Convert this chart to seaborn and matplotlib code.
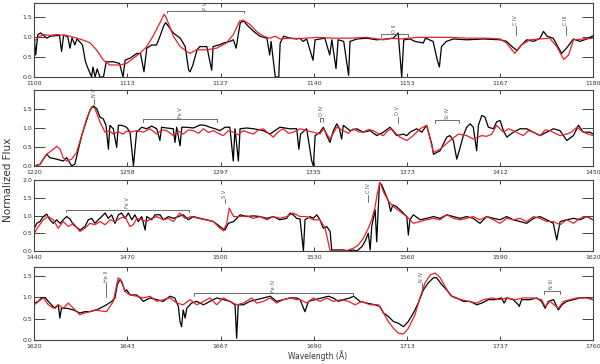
import matplotlib
matplotlib.use("Agg")
import matplotlib.pyplot as plt
import numpy as np
import seaborn as sns

sns.set_style("ticks")
plt.rcParams["font.family"] = ["DejaVu Sans"]

# observed spectrum (black) and model fit (red): (wavelength [A], normalized flux)
obs_1 = [(1100.0, 0.97), (1100.2, 0.55), (1100.5, 1.06), (1100.9, 1.10), (1101.8, 0.97), (1102.3, 1.02),
         (1103.6, 1.04), (1103.9, 0.64), (1104.2, 1.05), (1104.8, 1.00), (1105.1, 0.72), (1105.4, 0.98),
         (1105.8, 0.80), (1106.1, 0.95), (1106.5, 0.88), (1106.9, 0.80), (1107.3, 0.40), (1107.6, 0.25),
         (1108.2, 0.00), (1108.4, 0.25), (1108.7, 0.00), (1109.0, 0.20), (1109.4, 0.00), (1109.9, 0.00),
         (1110.3, 0.38), (1111.3, 0.38), (1112.2, 0.34), (1112.7, 0.00), (1113.0, 0.42), (1113.7, 0.47),
         (1114.7, 0.59), (1115.2, 0.59), (1115.7, 0.13), (1116.1, 0.72), (1116.8, 0.80), (1117.5, 0.80),
         (1118.0, 1.02), (1118.5, 1.27), (1118.8, 1.36), (1119.2, 1.27), (1119.9, 1.10), (1120.9, 0.97),
         (1121.6, 0.76), (1122.1, 0.17), (1122.3, 0.13), (1122.7, 0.30), (1123.3, 0.68), (1123.7, 0.76),
         (1124.7, 0.76), (1125.4, 0.17), (1125.6, 0.76), (1126.6, 0.81), (1127.1, 0.85), (1128.0, 0.89),
         (1128.5, 0.93), (1128.9, 0.72), (1129.2, 1.06), (1129.5, 1.36), (1130.0, 1.40), (1130.4, 1.31),
         (1131.4, 1.14), (1132.3, 1.02), (1133.3, 0.97), (1133.7, 0.55), (1133.9, 0.89), (1134.5, 0.00),
         (1135.0, 0.00), (1135.2, 0.85), (1135.7, 1.02), (1136.6, 0.97), (1137.6, 0.95), (1138.0, 0.97),
         (1138.5, 0.89), (1139.0, 0.95), (1139.9, 0.42), (1140.2, 0.93), (1140.9, 0.95), (1141.6, 0.97),
         (1142.3, 0.55), (1142.6, 0.93), (1143.2, 0.21), (1143.5, 0.93), (1144.3, 0.89), (1145.0, 0.04),
         (1145.2, 0.89), (1146.2, 0.95), (1147.6, 0.97), (1149.0, 0.93), (1150.5, 0.95), (1151.4, 0.97),
         (1152.1, 1.10), (1152.6, 0.00), (1152.9, 0.93), (1153.8, 0.95), (1154.5, 0.89), (1155.7, 0.85),
         (1156.0, 0.97), (1157.1, 0.89), (1157.7, 0.42), (1158.0, 0.25), (1158.3, 0.76), (1159.0, 0.89),
         (1160.0, 0.95), (1161.9, 0.93), (1164.3, 0.95), (1166.7, 0.93), (1167.6, 0.89), (1168.4, 0.76),
         (1169.1, 0.66), (1169.8, 0.81), (1170.5, 0.93), (1171.5, 0.89), (1172.4, 0.97), (1172.9, 1.14),
         (1173.4, 1.02), (1174.3, 0.97), (1174.8, 0.81), (1175.5, 0.59), (1176.2, 0.72), (1177.2, 0.95),
         (1178.1, 0.89), (1179.1, 0.95), (1180.0, 1.03)]
mod_1 = [(1100.0, 0.89), (1100.6, 1.00), (1101.3, 1.06), (1102.2, 1.04), (1103.2, 1.06), (1104.6, 1.04),
         (1106.1, 0.97), (1106.5, 0.95), (1107.5, 0.89), (1108.0, 0.85), (1108.9, 0.68), (1109.9, 0.42),
         (1110.8, 0.30), (1112.3, 0.30), (1113.2, 0.34), (1114.2, 0.47), (1115.1, 0.59), (1116.1, 0.76),
         (1117.0, 1.02), (1118.0, 1.36), (1118.6, 1.57), (1118.9, 1.48), (1119.9, 1.02), (1120.9, 0.76),
         (1121.8, 0.64), (1122.3, 0.59), (1123.2, 0.68), (1124.7, 0.68), (1126.1, 0.72), (1127.5, 0.85),
         (1128.5, 1.06), (1129.4, 1.40), (1129.9, 1.42), (1130.9, 1.31), (1131.8, 1.14), (1132.8, 1.02),
         (1133.7, 0.97), (1134.5, 1.02), (1135.2, 0.95), (1136.6, 0.97), (1138.0, 0.96), (1140.4, 0.99),
         (1142.8, 0.97), (1145.2, 0.97), (1147.6, 0.99), (1150.0, 0.93), (1151.2, 0.97), (1152.4, 0.95),
         (1154.8, 0.99), (1157.1, 0.99), (1159.5, 0.99), (1161.9, 0.97), (1164.8, 0.97), (1166.7, 0.95),
         (1167.6, 0.85), (1168.8, 0.59), (1169.8, 0.81), (1171.0, 0.93), (1172.4, 0.95), (1173.8, 0.97),
         (1174.8, 0.76), (1175.8, 0.44), (1176.5, 0.55), (1177.2, 0.93), (1178.6, 0.95), (1180.0, 0.97)]

obs_2 = [(1220.0, 0.00), (1222.3, 0.04), (1223.7, 0.18), (1225.1, 0.31), (1226.4, 0.22), (1229.2, 0.18),
         (1231.9, 0.13), (1233.3, 0.22), (1235.4, 0.00), (1236.7, 0.05), (1238.0, 0.40), (1239.5, 0.80),
         (1241.3, 1.16), (1242.9, 1.47), (1244.3, 1.58), (1245.7, 1.51), (1247.0, 1.29), (1248.4, 1.24),
         (1249.5, 1.07), (1250.5, 0.44), (1251.1, 1.07), (1252.5, 0.98), (1253.9, 0.49), (1254.6, 1.07),
         (1256.0, 1.07), (1258.0, 1.02), (1259.4, 0.89), (1260.8, 0.00), (1262.1, 0.89), (1264.2, 1.02),
         (1266.2, 0.98), (1268.3, 1.05), (1270.4, 0.98), (1271.7, 0.67), (1272.4, 1.02), (1274.5, 1.00),
         (1277.2, 0.98), (1277.9, 0.62), (1278.6, 1.02), (1280.0, 0.53), (1280.7, 1.02), (1282.7, 1.02),
         (1285.5, 1.00), (1288.2, 1.08), (1290.3, 1.07), (1292.3, 1.02), (1294.4, 0.98), (1296.4, 0.93),
         (1298.5, 1.02), (1300.5, 1.02), (1301.9, 0.13), (1302.6, 0.98), (1304.0, 0.13), (1304.7, 0.98),
         (1307.4, 1.00), (1310.2, 0.98), (1314.3, 0.93), (1317.0, 0.84), (1321.1, 1.02), (1325.2, 0.98),
         (1328.0, 0.98), (1328.9, 0.44), (1329.6, 0.84), (1332.1, 0.98), (1334.2, 0.13), (1334.9, 0.00),
         (1335.6, 0.80), (1337.6, 0.89), (1339.0, 1.02), (1340.4, 0.80), (1341.7, 0.62), (1343.1, 0.93),
         (1344.5, 1.11), (1345.6, 0.98), (1346.5, 0.71), (1347.2, 1.07), (1350.0, 0.93), (1352.7, 0.98),
         (1355.4, 0.89), (1358.2, 0.93), (1361.0, 0.80), (1363.7, 0.89), (1366.4, 1.02), (1369.2, 0.80),
         (1371.9, 0.84), (1373.3, 0.80), (1374.7, 0.89), (1377.4, 0.98), (1379.5, 0.89), (1381.5, 1.07),
         (1383.6, 0.58), (1384.3, 0.31), (1387.0, 0.40), (1389.8, 0.76), (1391.1, 0.80), (1392.5, 0.67),
         (1393.9, 0.18), (1395.3, 0.49), (1396.6, 0.80), (1398.0, 1.02), (1399.4, 1.11), (1400.7, 1.02),
         (1402.1, 0.40), (1402.8, 1.07), (1404.2, 1.33), (1405.5, 1.29), (1406.9, 1.02), (1409.0, 0.98),
         (1410.3, 1.16), (1411.7, 1.20), (1413.1, 0.93), (1414.5, 0.76), (1417.2, 0.89), (1420.0, 0.98),
         (1422.7, 0.98), (1425.4, 0.89), (1428.2, 0.80), (1430.9, 0.89), (1433.7, 0.98), (1436.4, 0.93),
         (1439.2, 0.67), (1441.9, 0.80), (1444.0, 1.07), (1446.0, 0.89), (1448.8, 0.89), (1450.0, 0.84)]
mod_2 = [(1220.0, 0.00), (1222.3, 0.04), (1225.1, 0.31), (1227.8, 0.44), (1229.2, 0.52), (1230.6, 0.44),
         (1231.9, 0.22), (1233.3, 0.13), (1235.4, 0.18), (1237.4, 0.36), (1239.5, 0.80), (1241.5, 1.24),
         (1243.6, 1.56), (1245.0, 1.51), (1247.0, 1.16), (1249.1, 0.89), (1250.8, 0.93), (1252.5, 0.84),
         (1254.5, 0.90), (1256.6, 0.84), (1258.0, 0.92), (1259.4, 0.89), (1262.1, 0.93), (1264.9, 0.89),
         (1267.6, 0.98), (1270.4, 0.84), (1272.5, 0.95), (1274.5, 0.93), (1277.2, 0.80), (1279.3, 0.92),
         (1281.3, 0.84), (1283.4, 0.95), (1285.5, 0.93), (1287.6, 0.86), (1289.6, 0.98), (1291.7, 0.88),
         (1293.7, 0.93), (1295.8, 0.86), (1297.8, 0.80), (1299.9, 0.93), (1301.9, 0.89), (1304.0, 0.82),
         (1306.0, 0.93), (1308.1, 0.88), (1310.2, 0.84), (1312.3, 0.95), (1314.3, 0.98), (1316.4, 0.86),
         (1318.4, 0.76), (1320.4, 0.90), (1322.5, 0.98), (1324.6, 0.86), (1326.6, 0.89), (1329.4, 0.98),
         (1332.1, 0.93), (1334.9, 0.89), (1337.6, 0.84), (1339.0, 0.98), (1341.7, 0.71), (1344.5, 1.02),
         (1347.2, 0.93), (1349.3, 0.86), (1351.3, 0.98), (1353.4, 0.90), (1355.4, 0.89), (1357.5, 0.96),
         (1359.6, 0.93), (1361.6, 0.85), (1363.7, 0.80), (1365.4, 0.92), (1367.1, 0.98), (1368.8, 0.86),
         (1370.5, 0.76), (1373.3, 0.67), (1376.0, 0.80), (1378.8, 0.98), (1381.5, 1.07), (1384.3, 0.36),
         (1387.0, 0.44), (1389.0, 0.55), (1391.1, 0.67), (1394.6, 0.84), (1398.0, 0.80), (1400.7, 0.71),
         (1404.2, 0.80), (1406.2, 0.78), (1408.3, 0.84), (1410.3, 1.07), (1413.1, 0.89), (1415.2, 0.98),
         (1417.2, 0.93), (1419.3, 0.86), (1421.3, 0.80), (1423.4, 0.93), (1425.4, 0.89), (1428.2, 0.80),
         (1430.3, 0.95), (1432.3, 0.93), (1434.4, 0.86), (1436.4, 0.80), (1439.2, 0.84), (1441.3, 0.90),
         (1443.3, 1.02), (1446.0, 0.89), (1448.0, 0.84), (1450.0, 0.80)]

obs_3 = [(1440.0, 0.64), (1440.8, 0.78), (1441.8, 0.83), (1442.9, 0.97), (1444.0, 1.04), (1445.0, 0.88),
         (1446.1, 0.78), (1447.2, 0.88), (1448.3, 0.78), (1449.3, 0.88), (1450.4, 0.97), (1451.5, 0.90),
         (1452.6, 0.74), (1454.7, 0.59), (1456.3, 0.69), (1457.4, 0.88), (1458.5, 0.92), (1459.5, 0.78),
         (1460.6, 0.88), (1461.7, 0.97), (1462.8, 1.07), (1463.8, 0.92), (1464.9, 1.02), (1466.0, 0.78),
         (1467.1, 1.02), (1468.1, 1.07), (1469.2, 0.92), (1470.3, 1.07), (1471.4, 0.88), (1472.4, 1.02),
         (1473.5, 0.83), (1474.6, 0.97), (1475.7, 0.59), (1476.2, 0.97), (1477.8, 0.88), (1478.9, 1.02),
         (1480.5, 1.02), (1481.6, 0.88), (1483.2, 0.97), (1484.8, 0.92), (1486.4, 0.97), (1488.0, 1.02),
         (1489.6, 0.88), (1491.2, 0.97), (1493.4, 0.92), (1495.5, 0.88), (1497.7, 0.83), (1499.8, 0.69),
         (1501.4, 0.59), (1502.5, 0.78), (1504.2, 0.83), (1506.3, 1.02), (1508.4, 0.97), (1510.6, 0.99),
         (1512.7, 0.97), (1514.9, 0.92), (1517.0, 0.97), (1519.1, 0.88), (1521.3, 0.92), (1522.4, 1.07),
         (1523.4, 1.02), (1524.5, 0.92), (1525.6, 0.90), (1526.7, 0.00), (1527.2, 0.88), (1528.8, 0.97),
         (1529.9, 0.92), (1531.0, 1.02), (1532.0, 0.88), (1533.1, 0.64), (1534.2, 0.69), (1535.3, 0.55),
         (1535.8, 0.03), (1537.4, 0.03), (1539.6, 0.03), (1541.2, 0.00), (1542.8, 0.03), (1543.9, 0.00),
         (1545.5, 0.12), (1546.5, 0.26), (1547.6, 0.50), (1548.2, 0.03), (1548.7, 0.69), (1549.8, 1.16),
         (1550.3, 0.26), (1551.2, 1.92), (1551.9, 1.87), (1553.0, 1.63), (1554.1, 1.40), (1554.8, 1.11),
         (1555.5, 1.30), (1556.7, 1.25), (1558.4, 1.11), (1560.0, 0.97), (1560.5, 0.45), (1561.0, 0.88),
         (1562.1, 1.02), (1564.3, 0.88), (1566.4, 0.92), (1568.6, 0.97), (1570.7, 0.92), (1572.9, 1.02),
         (1575.0, 0.97), (1577.2, 0.92), (1579.3, 0.97), (1581.4, 0.92), (1583.6, 0.78), (1585.7, 0.97),
         (1587.9, 0.92), (1590.0, 0.88), (1592.2, 0.97), (1594.3, 0.88), (1596.5, 0.83), (1598.6, 0.78),
         (1600.8, 0.92), (1602.9, 0.97), (1605.1, 0.88), (1607.2, 0.78), (1608.3, 0.31), (1609.4, 0.83),
         (1611.5, 0.88), (1613.7, 0.92), (1615.8, 0.88), (1618.0, 0.97), (1620.0, 0.88)]
mod_3 = [(1440.0, 0.50), (1441.3, 0.69), (1442.9, 0.88), (1444.5, 0.97), (1446.1, 0.88), (1447.7, 0.64),
         (1449.3, 0.83), (1451.0, 0.69), (1452.6, 0.78), (1454.7, 0.55), (1456.3, 0.64), (1457.9, 0.78),
         (1459.5, 0.74), (1461.2, 0.83), (1462.8, 0.74), (1464.4, 0.88), (1466.0, 0.83), (1467.6, 0.92),
         (1469.2, 0.97), (1470.8, 0.69), (1471.9, 0.74), (1473.0, 0.92), (1474.6, 0.88), (1476.2, 0.83),
         (1477.8, 0.92), (1479.4, 0.97), (1481.6, 0.88), (1483.2, 0.92), (1484.8, 0.83), (1486.9, 1.07),
         (1488.5, 0.92), (1490.7, 0.97), (1492.8, 0.92), (1495.0, 0.88), (1497.7, 0.83), (1499.8, 0.64),
         (1500.9, 0.57), (1502.0, 0.78), (1502.8, 1.21), (1504.2, 0.97), (1506.3, 0.97), (1508.4, 0.99),
         (1510.6, 0.92), (1512.7, 0.97), (1514.9, 0.88), (1517.0, 0.97), (1519.1, 0.92), (1521.3, 0.97),
         (1523.4, 1.07), (1525.6, 0.97), (1527.7, 0.97), (1529.9, 0.88), (1532.0, 0.88), (1533.7, 0.64),
         (1535.3, 0.00), (1537.4, 0.00), (1539.6, 0.00), (1541.2, 0.03), (1542.8, 0.08), (1544.4, 0.17),
         (1546.0, 0.36), (1547.6, 0.64), (1548.7, 0.88), (1549.8, 1.25), (1550.5, 1.63), (1551.4, 1.93),
         (1552.4, 1.68), (1554.1, 1.40), (1555.7, 1.25), (1557.8, 1.11), (1560.0, 0.97), (1562.1, 0.78),
         (1564.3, 0.83), (1566.4, 0.88), (1568.6, 0.92), (1570.7, 0.88), (1572.9, 1.02), (1575.0, 0.92),
         (1577.2, 0.88), (1579.3, 0.92), (1581.4, 0.97), (1583.6, 0.88), (1585.7, 0.97), (1587.9, 0.88),
         (1590.0, 0.78), (1592.2, 0.92), (1594.3, 0.88), (1596.5, 0.92), (1598.6, 0.83), (1600.8, 0.97),
         (1602.9, 0.92), (1605.1, 0.83), (1607.2, 0.83), (1609.4, 0.74), (1611.5, 0.88), (1613.7, 0.78),
         (1615.8, 0.92), (1618.0, 0.97), (1620.0, 0.88)]

obs_4 = [(1620.0, 0.86), (1621.0, 0.90), (1621.8, 0.98), (1622.7, 0.99), (1623.5, 0.90), (1624.3, 0.82),
         (1625.2, 0.74), (1626.0, 0.82), (1626.4, 0.51), (1626.8, 0.74), (1628.1, 0.74), (1629.8, 0.70),
         (1631.4, 0.63), (1632.7, 0.66), (1633.9, 0.66), (1635.6, 0.70), (1637.3, 0.78), (1638.1, 0.82),
         (1639.4, 0.90), (1640.2, 0.98), (1640.8, 1.29), (1641.5, 1.42), (1642.3, 1.25), (1642.7, 1.13),
         (1643.1, 1.17), (1644.0, 1.05), (1645.6, 1.05), (1646.5, 0.98), (1647.3, 0.90), (1649.0, 0.98),
         (1650.7, 0.94), (1652.3, 0.90), (1654.0, 1.02), (1655.2, 0.98), (1656.1, 0.78), (1656.5, 0.43),
         (1656.9, 0.31), (1657.3, 0.70), (1657.8, 0.51), (1658.2, 0.74), (1659.4, 0.86), (1660.7, 0.90),
         (1662.4, 0.82), (1664.0, 0.90), (1665.7, 0.98), (1667.4, 0.94), (1669.0, 0.90), (1670.3, 0.82),
         (1670.7, 0.04), (1671.1, 0.82), (1672.4, 0.82), (1674.0, 0.90), (1675.7, 0.94), (1677.4, 0.98),
         (1679.1, 1.02), (1680.7, 0.90), (1682.4, 0.94), (1684.1, 0.98), (1685.7, 0.98), (1686.6, 0.94),
         (1687.8, 0.66), (1688.7, 0.90), (1690.3, 0.94), (1692.0, 0.98), (1693.7, 1.02), (1694.9, 0.98),
         (1696.2, 0.90), (1697.4, 0.94), (1699.1, 0.98), (1700.0, 1.02), (1701.6, 0.90), (1703.3, 0.86),
         (1705.4, 0.82), (1706.6, 0.78), (1707.5, 0.63), (1708.7, 0.55), (1710.0, 0.43), (1711.2, 0.39),
         (1712.5, 0.31), (1713.7, 0.43), (1715.0, 0.63), (1716.2, 0.86), (1717.5, 1.17), (1718.7, 1.33),
         (1720.0, 1.45), (1720.8, 1.45), (1722.1, 1.29), (1723.3, 1.17), (1724.6, 1.02), (1725.8, 0.98),
         (1727.5, 0.90), (1729.2, 0.90), (1730.9, 0.82), (1732.1, 0.86), (1733.8, 0.94), (1735.4, 0.94),
         (1737.1, 0.98), (1737.7, 0.86), (1738.4, 0.98), (1740.0, 0.94), (1741.3, 0.82), (1741.5, 0.78),
         (1742.1, 0.94), (1744.2, 0.94), (1745.9, 0.98), (1747.1, 0.90), (1748.0, 0.74), (1748.8, 0.90),
         (1750.1, 0.94), (1751.3, 0.70), (1752.2, 0.82), (1753.4, 0.90), (1755.1, 0.94), (1756.7, 0.98),
         (1758.4, 0.99), (1760.0, 0.94)]
mod_4 = [(1620.0, 0.82), (1621.0, 0.90), (1622.3, 0.98), (1623.5, 0.82), (1624.8, 0.74), (1626.0, 0.82),
         (1627.3, 0.74), (1628.5, 0.86), (1629.8, 0.74), (1631.4, 0.59), (1632.7, 0.63), (1633.9, 0.66),
         (1635.2, 0.70), (1636.5, 0.68), (1638.1, 0.66), (1639.8, 0.90), (1641.0, 1.45), (1641.9, 1.37),
         (1642.7, 1.13), (1644.0, 1.05), (1645.6, 1.02), (1647.3, 0.98), (1649.0, 1.02), (1650.7, 0.90),
         (1652.3, 0.94), (1654.0, 0.98), (1655.7, 0.86), (1657.3, 0.82), (1659.0, 0.94), (1660.7, 0.82),
         (1662.4, 0.90), (1664.0, 0.98), (1665.7, 0.82), (1667.4, 0.98), (1669.0, 0.90), (1670.7, 0.82),
         (1672.4, 0.86), (1674.5, 0.98), (1675.7, 0.86), (1677.4, 0.90), (1679.1, 0.98), (1680.7, 0.86),
         (1682.4, 0.94), (1684.1, 0.98), (1685.7, 0.94), (1686.6, 0.94), (1688.3, 0.86), (1689.9, 0.98),
         (1691.6, 0.90), (1693.3, 0.98), (1694.9, 0.90), (1697.0, 0.94), (1698.7, 0.90), (1700.4, 0.82),
         (1702.0, 0.90), (1704.1, 0.82), (1706.2, 0.82), (1707.5, 0.63), (1708.7, 0.43), (1710.0, 0.27),
         (1711.2, 0.16), (1712.5, 0.14), (1713.7, 0.27), (1715.4, 0.59), (1716.6, 0.98), (1717.9, 1.33),
         (1719.2, 1.52), (1720.4, 1.56), (1721.7, 1.45), (1722.9, 1.25), (1724.2, 1.05), (1725.4, 0.98),
         (1727.1, 0.94), (1728.8, 0.90), (1730.9, 0.86), (1732.5, 0.94), (1734.6, 0.98), (1736.7, 0.94),
         (1738.4, 0.98), (1740.5, 0.94), (1742.5, 0.98), (1745.0, 0.98), (1747.1, 0.94), (1748.0, 0.78),
         (1749.2, 0.90), (1751.3, 0.74), (1752.6, 0.90), (1754.2, 0.94), (1755.9, 0.98), (1758.4, 0.98),
         (1760.0, 0.94)]

x_ranges = [(1100, 1180), (1220, 1450), (1440, 1620), (1620, 1760)]
y_tops = [1.85, 2.0, 2.0, 1.7]
y_ticks = [[0.0, 0.5, 1.0, 1.5], [0.0, 0.5, 1.0, 1.5], [0.0, 0.5, 1.0, 1.5, 2.0], [0.0, 0.5, 1.0, 1.5]]

# line identifications: (label, x0, x1, y_low, y_high); x0 == x1 -> single tick mark
ids_1 = [("P V", 1119.0, 1130.0, 1.59, 1.64), ("O II", 1149.6, 1153.5, 1.01, 1.07),
         ("C IV", 1168.9, 1168.9, 1.06, 1.27), ("C III", 1176.1, 1176.1, 1.06, 1.27)]
ids_2 = [("N V", 1244.7, 1244.7, 1.63, 1.76), ("Fe V", 1264.9, 1295.2, 1.16, 1.23),
         ("O IV", 1337.6, 1338.8, 1.16, 1.27), ("O V", 1369.6, 1369.6, 1.14, 1.30),
         ("Si IV", 1385.0, 1395.0, 1.14, 1.20)]
ids_3 = [("Fe V", 1450.1, 1489.9, 1.09, 1.16), ("S V", 1501.4, 1501.4, 1.35, 1.46),
         ("C IV", 1547.6, 1547.6, 1.39, 1.58)]
ids_4 = [("He II", 1638.0, 1638.0, 1.01, 1.32), ("Fe IV", 1660.1, 1699.9, 1.03, 1.09),
         ("N IV", 1717.1, 1717.1, 1.12, 1.32), ("N III", 1747.6, 1751.6, 1.08, 1.14)]

panels = [(obs_1, mod_1, ids_1), (obs_2, mod_2, ids_2), (obs_3, mod_3, ids_3), (obs_4, mod_4, ids_4)]
boxes = [(0.0572, 0.7885, 0.9312, 0.2033), (0.0572, 0.5440, 0.9312, 0.2087),
         (0.0572, 0.3104, 0.9312, 0.1951), (0.0572, 0.0659, 0.9312, 0.2005)]

RED = "#e62228"
GREY = "#555555"

fig = plt.figure(figsize=(6, 3.64), dpi=100)

for (obs, mod, ids), box, (x0, x1), ytop, yt in zip(panels, boxes, x_ranges, y_tops, y_ticks):
    ax = fig.add_axes(box)
    obs = np.array(obs)
    mod = np.array(mod)
    sns.lineplot(x=obs[:, 0], y=obs[:, 1], color="black", linewidth=0.9, ax=ax, estimator=None)
    sns.lineplot(x=mod[:, 0], y=mod[:, 1], color=RED, linewidth=0.9, ax=ax, estimator=None)

    for label, a, b, lo, hi in ids:
        if a == b:
            ax.plot([a, a], [lo, hi], color=GREY, lw=0.6)
            xc = a
        else:
            ax.plot([a, a, b, b], [lo, hi, hi, lo], color=GREY, lw=0.6)
            xc = (a + b) / 2
        ax.text(xc, hi + 0.04 * ytop / 1.85, label, rotation=90, ha="center", va="bottom",
                fontsize=3.6, color=GREY)

    ax.set_xlim(x0, x1)
    ax.set_ylim(0, ytop)
    xt = np.linspace(x0, x1, 7)
    ax.set_xticks(xt)
    ax.set_xticklabels([f"{v:.0f}" for v in xt])
    ax.set_yticks(yt)
    ax.set_yticklabels([f"{v:.1f}" for v in yt])
    ax.tick_params(axis="x", direction="in", top=True, length=3, width=0.6,
                   labelsize=4.5, labelcolor="#333333", pad=3)
    ax.tick_params(axis="y", direction="in", right=True, length=8, width=0.6,
                   labelsize=4.5, labelcolor="#333333", pad=1.5)
    for s in ax.spines.values():
        s.set_linewidth(0.8)
        s.set_color("#444444")

fig.text(0.013, 0.505, "Normalized Flux", rotation=90, ha="center", va="center",
         fontsize=7.5, color="#333333")
fig.text(0.53, 0.022, "Wavelength (\u00c5)", ha="center", va="center",
         fontsize=5.5, color="#333333")

fig.savefig("out.png", dpi=100)
